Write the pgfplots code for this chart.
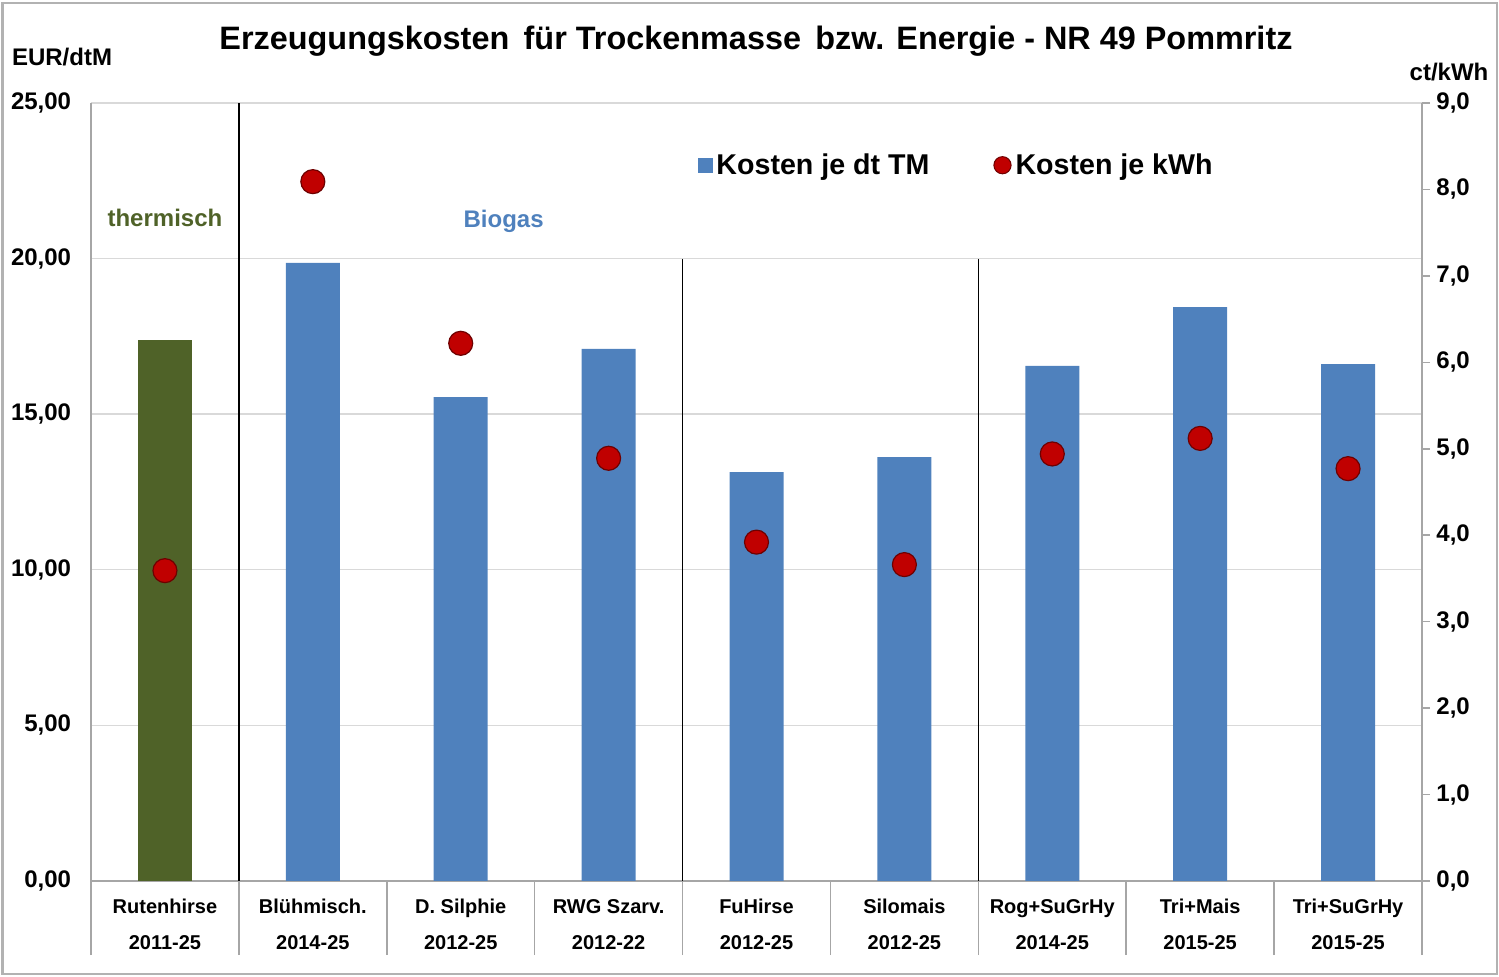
\documentclass[border=0pt]{standalone}
\usepackage{fontspec}
\setmainfont{Liberation Sans}
\usepackage{pgfplots}
\usepackage{pgfplotstable}
\pgfplotsset{compat=1.18}
\definecolor{olivegreen}{HTML}{4F6228}
\definecolor{barblue}{HTML}{4F81BD}
\definecolor{dotred}{HTML}{C00000}
\definecolor{dotedge}{HTML}{6E0000}

\pgfplotstableread{
x y
0 17.38
}\thermdata
\pgfplotstableread{
x y
1 19.86
2 15.55
3 17.10
4 13.14
5 13.62
6 16.55
7 18.44
8 16.61
}\biodata
\pgfplotstableread{
x y
0 3.59
1 8.09
2 6.22
3 4.89
4 3.92
5 3.66
6 4.94
7 5.12
8 4.77
}\kwhdata

\newcommand{\twol}[2]{\strut #1\\[6pt]\strut #2}

\begin{document}
\begin{tikzpicture}
\pgfplotsset{
  common/.style={
    scale only axis, width=665.5pt, height=389pt,
    at={(45.5pt,48pt)}, anchor=south west,
    xmin=-0.5, xmax=8.5,
    /pgf/number format/assume math mode=true,
  }
}
\begin{axis}[common,
  ymin=0, ymax=25, ytick={0,5,...,25},
  ymajorgrids, grid style={gray!30, line width=0.7pt},
  axis x line*=bottom, axis y line*=left,
  axis line style={-, gray!70, line width=0.8pt},
  ytick style={draw=none},
  yticklabel style={font=\fontsize{12}{14}\selectfont\bfseries, inner sep=0pt, xshift=-5.5pt,
    /pgf/number format/.cd, fixed, fixed zerofill, precision=2, use comma},
  xtick={0,...,8},
  major x tick style={draw=none},
  minor xtick={-0.5,0.5,...,8.5},
  minor tick length=37pt,
  minor x tick style={gray!70, line width=0.8pt},
  tick align=outside,
  xticklabel style={align=center, font=\fontsize{10}{12}\selectfont\bfseries, anchor=north, inner sep=0pt, yshift=-3.5pt},
  xticklabels={{\twol{Rutenhirse}{2011-25}},{\twol{Blühmisch.}{2014-25}},{\twol{D. Silphie}{2012-25}},{\twol{RWG Szarv.}{2012-22}},{\twol{FuHirse}{2012-25}},{\twol{Silomais}{2012-25}},{\twol{Rog+SuGrHy}{2014-25}},{\twol{Tri+Mais}{2015-25}},{\twol{Tri+SuGrHy}{2015-25}}},
  ybar, bar width=27pt,
  clip=false,
]
\addplot[fill=olivegreen, draw=none, bar shift=0pt] table[x=x,y=y] {\thermdata};
\addplot[fill=barblue, draw=none, bar shift=0pt] table[x=x,y=y] {\biodata};
\draw[black, line width=0.8pt] (axis cs:0.5,0) -- (axis cs:0.5,25);
\draw[black, line width=0.8pt] (axis cs:3.5,0) -- (axis cs:3.5,20);
\draw[black, line width=0.8pt] (axis cs:5.5,0) -- (axis cs:5.5,20);
\node[text=olivegreen, font=\fontsize{12}{14}\selectfont\bfseries] at (axis cs:0,21.3) {thermisch};
\node[text=barblue, font=\fontsize{12}{14}\selectfont\bfseries] at (axis cs:2.29,21.2) {Biogas};
\end{axis}
\begin{axis}[common,
  ymin=0, ymax=9, ytick={0,1,...,9},
  axis x line=none, axis y line*=right,
  axis line style={-, gray!70, line width=0.8pt},
  ytick style={gray!70, line width=0.8pt}, tick align=outside, major tick length=4pt,
  yticklabel style={font=\fontsize{12}{14}\selectfont\bfseries, inner sep=0pt, xshift=3pt,
    /pgf/number format/.cd, fixed, fixed zerofill, precision=1, use comma},
  legend style={draw=none, fill=none, font=\fontsize{14.3}{16}\selectfont\bfseries,
    at={(0.451,0.92)}, anchor=west, legend columns=2,
    /tikz/every even column/.append style={column sep=30pt}},
  clip=false,
]
\addlegendimage{legend image code/.code={\fill[barblue] (0pt,-3.5pt) rectangle (7pt,3.5pt);}}
\addlegendentry{Kosten je dt TM}
\addplot[only marks, mark=*, mark size=6pt, mark options={fill=dotred, draw=dotedge, line width=0.6pt},
  legend image code/.code={\draw[fill=dotred, draw=dotedge, line width=0.5pt] (4.3pt,0) circle (4.3pt);}]
  table[x=x,y=y] {\kwhdata};
\addlegendentry{Kosten je kWh}
\end{axis}
\node[font=\fontsize{16.2}{19}\selectfont\bfseries] at (378pt,468pt) {Erzeugungskosten\, für Trockenmasse\, bzw. Energie - NR 49 Pommritz};
\node[font=\fontsize{12}{14}\selectfont\bfseries] at (31pt,460pt) {EUR/dtM};
\node[font=\fontsize{12}{14}\selectfont\bfseries] at (724.5pt,452.5pt) {ct/kWh};
\pgfresetboundingbox
\useasboundingbox (0,0) rectangle (749.5pt,488.5pt);
\draw[gray!60, line width=1.2pt] (1.2pt,1.5pt) rectangle (748.5pt,487pt);
\end{tikzpicture}
\end{document}
